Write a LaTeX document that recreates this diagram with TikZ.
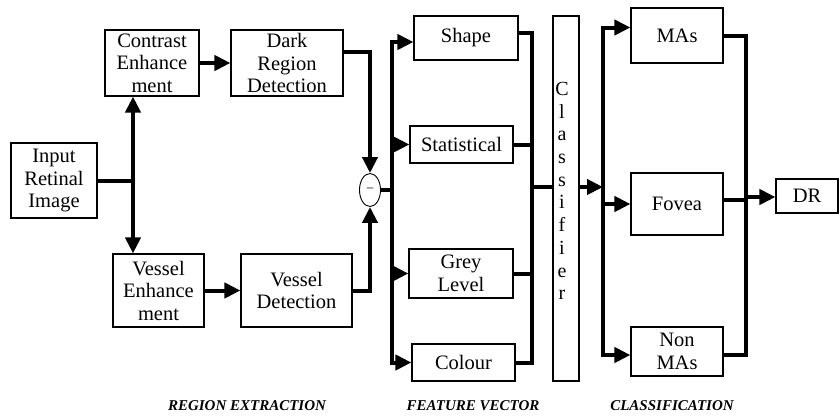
\documentclass[tikz,border=0pt]{standalone}
\usepackage{fontspec}
\setmainfont{Liberation Serif}
\usetikzlibrary{arrows.meta,shapes.geometric}

\begin{document}
\begin{tikzpicture}[x=1pt,y=-1pt,
    box/.style={draw,line width=1.1pt,align=center,inner sep=0pt,font=\fontsize{20.5}{22.5}\selectfont},
    wire/.style={line width=4pt},
    arr/.style={line width=4pt,-{Triangle[length=16pt,width=15pt]}},
    stage/.style={font=\fontsize{15}{17}\selectfont\bfseries\itshape}]
    \useasboundingbox (0,0) rectangle (840,415);
    \node[box,minimum width=86pt,minimum height=75pt] (input) at (54,180.5) {Input\\Retinal\\Image};
    \node[box,minimum width=94pt,minimum height=66pt] (contrast) at (152,63) {Contrast\\Enhance\\ment};
    \node[box,minimum width=112pt,minimum height=66pt] (dark) at (287,63) {Dark\\Region\\Detection};
    \node[box,minimum width=91pt,minimum height=73pt] (vesenh) at (158.5,290.5) {Vessel\\Enhance\\ment};
    \node[box,minimum width=111pt,minimum height=73pt] (vesdet) at (296.5,290.5) {Vessel\\Detection};
    \node[draw,ellipse,line width=0.9pt,minimum width=21pt,minimum height=33pt,inner sep=0pt,font=\fontsize{13}{14}\selectfont] (minus) at (370,190) {--};
    \node[box,minimum width=104pt,minimum height=44pt] (shape) at (466,38) {Shape};
    \node[box,minimum width=103pt,minimum height=37pt] (stat) at (461.5,144.5) {Statistical};
    \node[box,minimum width=104pt,minimum height=49pt] (grey) at (461,273.5) {Grey\\Level};
    \node[box,minimum width=103pt,minimum height=37pt] (colour) at (463.5,362.5) {Colour};
    \node[box,minimum width=26pt,minimum height=365pt] (cls) at (566,198.5) {};
    \node[align=center,font=\fontsize{20}{22.7}\selectfont] (clstext) at (562,191) {C\\l\\a\\s\\s\\i\\f\\i\\e\\r};
    \node[box,minimum width=92pt,minimum height=55pt] (mas) at (677,35.5) {MAs};
    \node[box,minimum width=92pt,minimum height=62pt] (fovea) at (677,204) {Fovea};
    \node[box,minimum width=92pt,minimum height=49pt] (nonmas) at (677,351.5) {Non\\MAs};
    \node[box,minimum width=62pt,minimum height=34pt] (dr) at (807,196) {DR};
    \coordinate (split) at (133,180.5);
    \coordinate (fb) at (392,190);
    \coordinate (ob) at (532,187);
    \coordinate (cb) at (603,187);
    \coordinate (db) at (746,197);
    \draw[wire] (input.east) -- (split);
    \draw[arr] (split) -- (contrast.south -| split);
    \draw[arr] (split) -- (vesenh.north -| split);
    \draw[arr] (contrast.east) -- (dark.west);
    \draw[arr] (vesenh.east) -- (vesdet.west);
    \draw[arr] ([yshift=11pt]dark.east) -| (minus.north);
    \draw[arr] (vesdet.east) -| (minus.south);
    \draw[wire] (minus.east) -- (fb);
    \draw[arr] (fb) |- ([yshift=-4pt]shape.west);
    \draw[arr] (fb) |- (stat.west);
    \draw[arr] (fb) |- (grey.west);
    \draw[arr] (fb) |- (colour.west);
    \draw[wire] ([yshift=5pt]shape.east) -| (ob);
    \draw[wire] (stat.east) -| (ob);
    \draw[wire] (grey.east) -| (ob);
    \draw[wire] (colour.east) -| (ob);
    \draw[wire] (ob) -- (ob -| cls.west);
    \draw[arr] (cls.east |- ob) -- (cb);
    \draw[arr] (cb) |- ([yshift=8pt]mas.west);
    \draw[arr] (cb) |- (fovea.west);
    \draw[arr] (cb) |- ([yshift=-3.5pt]nonmas.west);
    \draw[wire] (mas.east) -| (db);
    \draw[wire] ([yshift=4pt]fovea.east) -| (db);
    \draw[wire] ([yshift=-3.5pt]nonmas.east) -| (db);
    \draw[arr] (db) -- (db -| dr.west);
    \node[stage] (regionlab) at (247,406) {REGION EXTRACTION};
    \node[stage] (featlab) at (473,406) {FEATURE VECTOR};
    \node[stage] (classlab) at (672,406) {CLASSIFICATION};
\end{tikzpicture}
\end{document}
